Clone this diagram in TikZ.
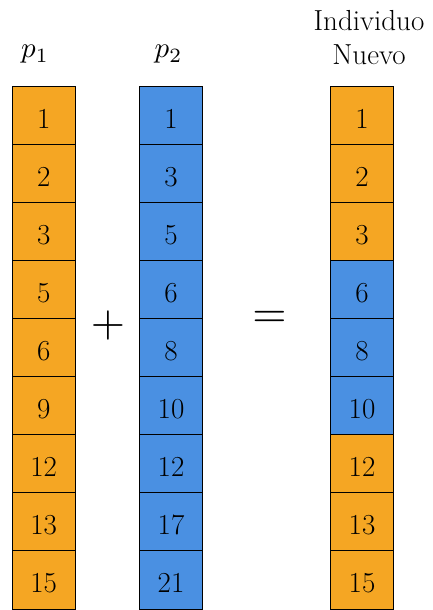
\documentclass[tikz,border=0pt]{standalone}
\usepackage{tikz}
\definecolor{corange}{HTML}{F5A623}
\definecolor{cblue}{HTML}{4A90E2}
\tikzset{
  cell/.style={draw=black, line width=0.8pt, minimum width=63pt, minimum height=58.1pt,
    inner sep=0pt, text height=26pt, text depth=0pt, font=\fontsize{29}{34}\selectfont},
  orc/.style={cell, fill=corange},
  blc/.style={cell, fill=cblue},
  lab/.style={font=\fontsize{29}{35}\selectfont, inner sep=0pt, align=center},
  mlab/.style={font=\normalsize, inner sep=0pt, scale=2.9, transform shape},
  op/.style={font=\normalsize, inner sep=0pt, scale=4.4, transform shape}
}
\begin{document}
\begin{tikzpicture}[x=1pt,y=-1pt]
\useasboundingbox (0,0) rectangle (432,610);
% column p1
\foreach \v [count=\i] in {1,2,3,5,6,9,12,13,15}{
  \node[orc] (a\i) at (43.7,{86+58.1*(\i-0.5)}) {\v};
}
% column p2
\foreach \v [count=\i] in {1,3,5,6,8,10,12,17,21}{
  \node[blc] (b\i) at (171,{86+58.1*(\i-0.5)}) {\v};
}
% new individual
\foreach \v/\c [count=\i] in {1/orc,2/orc,3/orc,6/blc,8/blc,10/blc,12/orc,13/orc,15/orc}{
  \node[\c] (c\i) at (362,{86+58.1*(\i-0.5)}) {\v};
}
\node[mlab, anchor=base] (lp1) at (35,58) {$p_1$};
\node[mlab, anchor=base] (lp2) at (168.5,58) {$p_2$};
\node[lab, anchor=base] (ln) at (369,65) {Individuo\\Nuevo};
\node[op] (plus) at (108,325) {$+$};
\node[op] (eq) at (269.5,319) {$=$};
\end{tikzpicture}
\end{document}
